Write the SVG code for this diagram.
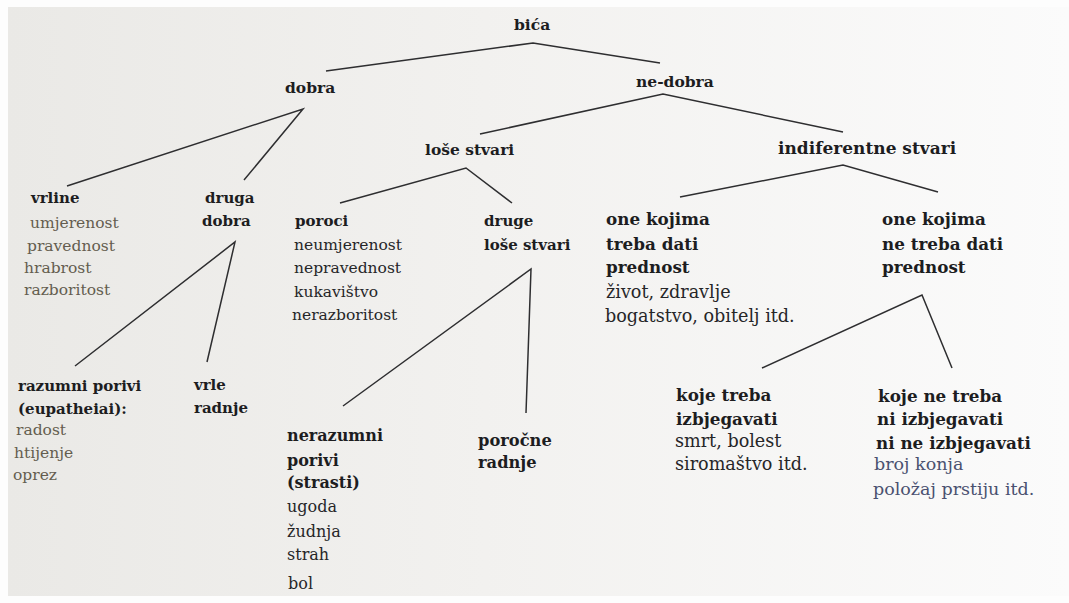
<svg xmlns="http://www.w3.org/2000/svg" width="1069" height="603" viewBox="0 0 1069 603">
<defs>
<linearGradient id="page" x1="0" y1="0" x2="1" y2="0">
<stop offset="0" stop-color="#eae9e6"/>
<stop offset="0.45" stop-color="#f2f1ef"/>
<stop offset="1" stop-color="#fbfbfb"/>
</linearGradient>
<style>
text{font-family:"DejaVu Serif","Liberation Serif",serif;fill:#1d1d1f}
.b{font-weight:bold;font-size:15px}
.h{font-weight:bold;font-size:15.5px}
.r{font-size:15.5px;fill:#262628}
.o{font-size:15.5px;fill:#645d4f}
.s{font-size:15.5px;fill:#4a5170}
.m .b{font-size:16px}
.m .r{font-size:16px}
.R .b{font-size:16.8px}
.R .r{font-size:17.6px}
.R .s{font-size:17.5px}
.c{stroke:#2e2e30;stroke-width:1.5;fill:none;stroke-linejoin:miter}
</style>
</defs>
<rect width="1069" height="603" fill="#fdfdfd"/>
<rect x="8" y="7" width="1061" height="589" fill="url(#page)"/>
<g id="connectors">
<polyline class="c" points="326,71 533,43 660,63"/>
<polyline class="c" points="67,186 303,109 244,180"/>
<polyline class="c" points="480,134 663,94 843,132"/>
<polyline class="c" points="340,203 466,168 512,203"/>
<polyline class="c" points="680,197 843,165 938,192"/>
<polyline class="c" points="75,366 235,242 207,362"/>
<polyline class="c" points="343,406 531,269 526,413"/>
<polyline class="c" points="762,368 922,295 952,368"/>
</g>
<g id="n-bica"><text class="h" x="514" y="30">bića</text></g>
<g id="n-dobra"><text class="h" x="285" y="93">dobra</text></g>
<g id="n-nedobra"><text class="h" x="636" y="87">ne-dobra</text></g>
<g id="n-lose"><text class="h" x="425" y="155">loše stvari</text></g>
<g id="n-indif"><text class="h" x="778" y="154" style="font-size:17px">indiferentne stvari</text></g>
<g id="n-vrline">
<text class="b" x="31" y="203">vrline</text>
<text class="o" x="30" y="228">umjerenost</text>
<text class="o" x="27" y="251">pravednost</text>
<text class="o" x="24" y="273">hrabrost</text>
<text class="o" x="24" y="295">razboritost</text>
</g>
<g id="n-druga">
<text class="b" x="205" y="203">druga</text>
<text class="b" x="202" y="226">dobra</text>
</g>
<g id="n-poroci">
<text class="b" x="295" y="226">poroci</text>
<text class="r" x="294" y="250">neumjerenost</text>
<text class="r" x="294" y="273">nepravednost</text>
<text class="r" x="294" y="297">kukavištvo</text>
<text class="r" x="292" y="320">nerazboritost</text>
</g>
<g id="n-druge">
<text class="b" x="484" y="226">druge</text>
<text class="b" x="484" y="250">loše stvari</text>
</g>
<g id="n-prednost" class="R">
<text class="b" x="606" y="225">one kojima</text>
<text class="b" x="606" y="250">treba dati</text>
<text class="b" x="606" y="273">prednost</text>
<text class="r" x="606" y="298">život, zdravlje</text>
<text class="r" x="605" y="322">bogatstvo, obitelj itd.</text>
</g>
<g id="n-neprednost" class="R">
<text class="b" x="882" y="225">one kojima</text>
<text class="b" x="882" y="250">ne treba dati</text>
<text class="b" x="882" y="273">prednost</text>
</g>
<g id="n-razumni">
<text class="b" x="18" y="391">razumni porivi</text>
<text class="b" x="18" y="414">(eupatheiai):</text>
<text class="o" x="16" y="435">radost</text>
<text class="o" x="14" y="458">htijenje</text>
<text class="o" x="13" y="480">oprez</text>
</g>
<g id="n-vrle">
<text class="b" x="194" y="390">vrle</text>
<text class="b" x="194" y="413">radnje</text>
</g>
<g id="n-nerazumni" class="m">
<text class="b" x="287" y="441">nerazumni</text>
<text class="b" x="287" y="466">porivi</text>
<text class="b" x="287" y="488">(strasti)</text>
<text class="r" x="287" y="512">ugoda</text>
<text class="r" x="287" y="537">žudnja</text>
<text class="r" x="287" y="560">strah</text>
<text class="r" x="288" y="589">bol</text>
</g>
<g id="n-porocne" class="m">
<text class="b" x="478" y="446" style="font-size:16.3px">poročne</text>
<text class="b" x="478" y="468" style="font-size:16.3px">radnje</text>
</g>
<g id="n-izbjegavati" class="R">
<text class="b" x="676" y="401">koje treba</text>
<text class="b" x="676" y="425">izbjegavati</text>
<text class="r" x="675" y="447">smrt, bolest</text>
<text class="r" x="675" y="470">siromaštvo itd.</text>
</g>
<g id="n-ni" class="R">
<text class="b" x="878" y="402">koje ne treba</text>
<text class="b" x="877" y="425">ni izbjegavati</text>
<text class="b" x="876" y="449">ni ne izbjegavati</text>
<text class="s" x="874" y="470">broj konja</text>
<text class="s" x="873" y="495">položaj prstiju itd.</text>
</g>
</svg>
